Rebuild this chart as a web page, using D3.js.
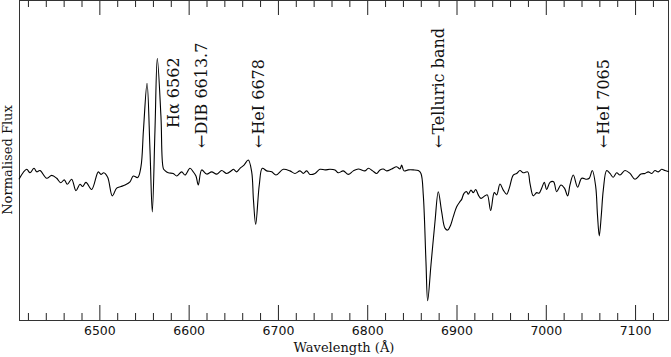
<!DOCTYPE html>
<html>
<head>
<meta charset="utf-8">
<script src="https://cdn.jsdelivr.net/npm/d3@7"></script>
<style>
  body { margin: 0; background: #fff; }
  svg { display: block; }
</style>
</head>
<body>
<svg id="chart" width="671" height="357"></svg>
<script>
// spectrum (wavelength in A, normalised flux)
var wavelength = [6410.0,6418.6,6422.3,6426.8,6429.8,6433.5,6441.0,6446.6,6452.2,6456.7,6460.7,6464.1,6469.0,6473.8,6478.3,6481.3,6485.0,6491.4,6498.8,6501.8,6504.9,6509.3,6514.5,6519.4,6524.2,6528.7,6534.3,6538.0,6542.9,6546.6,6549.4,6553.4,6556.7,6559.3,6562.3,6564.9,6569.0,6571.6,6573.5,6577.2,6582.8,6586.6,6592.2,6595.9,6601.5,6605.2,6608.2,6610.8,6614.6,6620.2,6625.8,6631.4,6637.0,6642.6,6648.2,
  6650.0,6653.8,6657.5,6662.0,6666.8,6670.6,6672.6,6675.1,6679.1,6682.5,6687.4,6693.0,6697.8,6706.0,6713.5,6719.1,6724.7,6728.4,6732.2,6735.9,6741.5,6747.1,6752.7,6758.3,6763.9,6767.6,6773.2,6778.8,6784.4,6790.0,
  6797.5,6801.2,6806.1,6810.6,6814.3,6818.0,6821.8,6827.4,6833.0,6836.7,6838.6,6841.2,6846.0,6851.6,6857.2,6860.2,6862.8,6865.8,6867.7,6871.4,6875.9,6879.6,6883.4,6887.1,6890.1,6893.5,6896.4,6900.2,6903.9,
  6905.8,6908.4,6911.4,6913.2,6916.2,6918.8,6921.5,6924.4,6927.4,6931.9,6934.5,6938.3,6942.3,6945.0,6948.7,6952.4,6956.2,6959.1,6963.6,6967.4,6971.1,6974.8,6979.7,6982.3,6986.0,6989.8,6992.4,6995.4,6998.3,7001.0,7004.7,7008.7,7012.2,7017.0,7020.9,7024.5,7027.1,7030.8,7035.7,7040.2,7045.8,7048.7,7052.1,7055.9,7057.9,7059.9,7062.2,7064.4,7068.2,7071.9,7075.6,7079.4,7083.1,7088.7,7094.3,7099.9,7106.6,7111.1,7114.8,7118.6,7122.3,7126.0,7129.8,7133.5,7138.0];
var flux = [0.980,1.011,1.000,1.014,1.003,1.007,0.983,0.992,0.983,0.969,0.978,0.964,0.980,0.944,0.964,0.957,0.970,0.948,1.003,0.995,1.000,0.986,0.928,0.952,0.957,0.962,0.972,0.990,0.985,1.019,1.134,1.280,1.071,0.878,1.134,1.358,1.175,1.014,1.007,1.000,0.998,0.990,1.003,0.993,1.014,1.003,0.990,0.962,1.009,0.996,1.003,0.996,1.007,0.998,1.007,
  1.011,1.003,1.014,1.024,1.040,1.003,0.915,0.839,0.962,1.014,1.006,1.003,0.993,1.011,1.006,0.998,1.006,0.998,1.006,0.995,0.998,1.011,1.009,1.011,1.009,1.000,1.006,0.995,1.006,1.012,
  1.006,1.014,1.006,0.998,1.009,1.012,1.006,1.012,1.019,1.012,1.024,1.006,1.009,1.009,1.007,0.998,0.931,0.722,0.600,0.712,0.847,0.941,0.878,0.827,0.821,0.837,0.863,0.894,0.910,
  0.917,0.936,0.941,0.933,0.946,0.938,0.948,0.931,0.920,0.928,0.931,0.882,0.938,0.931,0.965,0.946,0.933,0.952,0.993,0.998,1.007,1.000,1.003,0.967,0.928,0.938,0.936,0.952,0.970,0.948,0.970,0.972,0.941,0.962,0.952,0.928,0.962,0.993,0.955,0.983,0.980,0.983,1.007,0.957,0.868,0.803,0.868,0.946,1.007,0.998,0.986,1.000,0.993,1.007,0.998,0.980,0.996,0.998,1.003,0.998,1.007,1.003,1.011,1.007,1.003];

// line identifications and where their labels sit
var lineLabels = ["H\u03b1 6562", "\u2190DIB 6613.7", "\u2190HeI 6678", "\u2190Telluric band", "\u2190HeI 7065"];
var lineLabelWl = [6582.5, 6613.7, 6678, 6880, 7064.5];

var majorTicks = [6500, 6600, 6700, 6800, 6900, 7000, 7100];

var svg = d3.select("#chart");
var margin = {top: 0, right: 2, bottom: 37, left: 19};
var width = 671 - margin.left - margin.right,
    height = 357 - margin.top - margin.bottom;

var g = svg.append("g").attr("transform", "translate(" + margin.left + "," + margin.top + ")");

var x = d3.scaleLinear().domain([6410, 7138]).range([0, width]);
var y = d3.scaleLinear().domain([0.54, 1.54]).range([height, 0]);

var data = wavelength.map(function(w, i) { return {wl: w, f: flux[i]}; });

var minorTicks = d3.range(6420, 7138, 20).filter(function(t) { return t % 100 != 0; });

// bottom axis with labels, major + minor ticks pointing in
var xAxis = d3.axisBottom(x).tickValues(majorTicks).tickSizeInner(-15).tickSizeOuter(0).tickPadding(6).tickFormat(d3.format("d"));
var bottom = g.append("g").attr("transform", "translate(0," + height + ")").call(xAxis);
bottom.select(".domain").remove();
bottom.selectAll("text")
  .style("font-family", "DejaVu Sans")
  .style("font-size", "12.5px")
  .attr("fill", "#111");
bottom.selectAll(".tick line").attr("stroke", "#222");

g.append("g").attr("transform", "translate(0," + height + ")")
  .call(d3.axisBottom(x).tickValues(minorTicks).tickSizeInner(-7).tickSizeOuter(0).tickFormat(""))
  .call(function(s) { s.select(".domain").remove(); s.selectAll("line").attr("stroke", "#222"); });

// top axis, ticks only
g.append("g")
  .call(d3.axisTop(x).tickValues(majorTicks).tickSizeInner(-15).tickSizeOuter(0).tickFormat(""))
  .call(function(s) { s.select(".domain").remove(); s.selectAll("line").attr("stroke", "#222"); });
g.append("g")
  .call(d3.axisTop(x).tickValues(minorTicks).tickSizeInner(-7).tickSizeOuter(0).tickFormat(""))
  .call(function(s) { s.select(".domain").remove(); s.selectAll("line").attr("stroke", "#222"); });

// frame
g.append("rect")
  .attr("x", 0.5).attr("y", 0.5)
  .attr("width", width - 1).attr("height", height)
  .attr("fill", "none")
  .attr("stroke", "#333")
  .attr("stroke-width", 1);

// the spectrum
var line = d3.line()
  .x(function(d) { return x(d.wl); })
  .y(function(d) { return y(d.f); })
  .curve(d3.curveCatmullRom.alpha(0.5));

g.append("path")
  .attr("d", line(data))
  .attr("fill", "none")
  .attr("stroke", "#000")
  .attr("stroke-width", 1.1)
  .attr("stroke-linejoin", "round");

// labels, written upwards
g.selectAll(".idlabel")
  .data(lineLabels)
  .enter().append("text")
  .attr("class", "idlabel")
  .attr("transform", function(d, i) {
    var ty = (d.charAt(0) == "\u2190") ? 148 : 128;
    return "translate(" + x(lineLabelWl[i]) + "," + ty + ") rotate(-90)";
  })
  .attr("dy", "0.36em")
  .style("font-family", "DejaVu Serif")
  .style("font-size", "16px")
  .attr("fill", "#111")
  .text(function(d) { return d; });

// axis titles
svg.append("text")
  .attr("x", margin.left + width / 2)
  .attr("y", 352)
  .attr("text-anchor", "middle")
  .style("font-family", "DejaVu Serif")
  .style("font-size", "13px")
  .attr("fill", "#111")
  .text("Wavelength (\u00c5)");

svg.append("text")
  .attr("transform", "translate(7," + (margin.top + height / 2) + ") rotate(-90)")
  .attr("dy", "0.35em")
  .attr("text-anchor", "middle")
  .style("font-family", "DejaVu Serif")
  .style("font-size", "13px")
  .attr("fill", "#111")
  .text("Normalised Flux");
</script>
</body>
</html>
